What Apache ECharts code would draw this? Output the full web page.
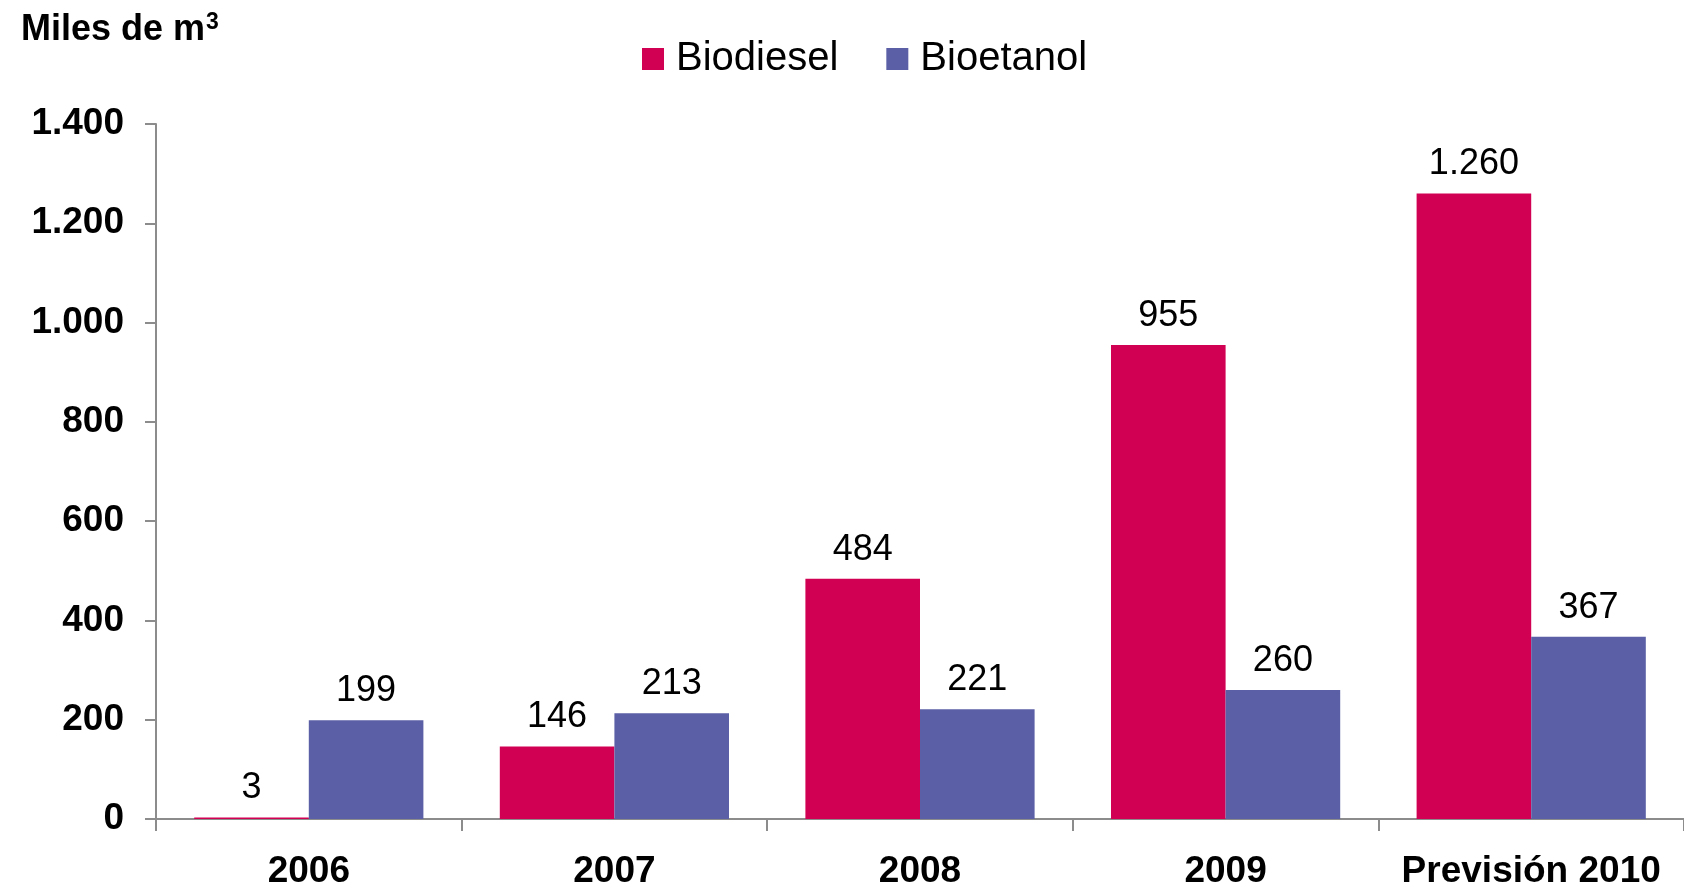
<!doctype html>
<html lang="es">
<head>
    <meta charset="UTF-8">
    <title>Biocombustibles</title>
    <style>
        * {
            margin: 0;
            padding: 0;
        }

        body {
            background: #ffffff;
        }

        #chart {
            width: 1684px;
            height: 890px;
        }
    </style>
</head>
<body>
<div id="chart"></div>
<script src="https://cdn.jsdelivr.net/npm/echarts@6/dist/echarts.min.js"></script>
<script type="application/javascript">
    const years = ['2006', '2007', '2008', '2009', 'Previsión 2010'];
    const biodiesel = [3, 146, 484, 955, 1260];
    const bioetanol = [199, 213, 221, 260, 367];

    const font = 'Liberation Sans, Arial, sans-serif';
    // 1.400 style: dot as thousands separator
    const fmt = function (v) {
        return String(v).replace(/\B(?=(\d{3})+(?!\d))/g, '.');
    };

    const barLabel = {
        show: true,
        position: 'top',
        distance: 11,
        color: '#000',
        fontFamily: font,
        fontSize: 36,
        formatter: function (p) {
            return fmt(p.value);
        }
    };

    const chart = echarts.init(document.getElementById('chart'));
    chart.setOption({
        animation: false,
        backgroundColor: '#ffffff',
        textStyle: {fontFamily: font},
        title: {
            text: '{t|Miles de m}{s|3}',
            left: 16,
            top: 6,
            textStyle: {
                rich: {
                    t: {
                        fontFamily: font,
                        fontSize: 36,
                        fontWeight: 'bold',
                        color: '#000',
                        verticalAlign: 'bottom'
                    },
                    s: {
                        fontFamily: font,
                        fontSize: 23,
                        fontWeight: 'bold',
                        color: '#000',
                        verticalAlign: 'top',
                        padding: [0, 0, 14, 1]
                    }
                }
            }
        },
        legend: {
            top: 34,
            left: 637,
            itemWidth: 22,
            itemHeight: 22,
            itemGap: 48,
            icon: 'rect',
            textStyle: {
                fontFamily: font,
                fontSize: 40,
                color: '#000',
                padding: [0, 0, 0, 7]
            },
            data: ['Biodiesel', 'Bioetanol']
        },
        grid: {
            left: 156,
            right: 0,
            top: 124,
            bottom: 68,
            containLabel: false
        },
        xAxis: {
            type: 'category',
            data: years,
            axisLine: {lineStyle: {color: '#8c8c8c', width: 2}},
            axisTick: {show: true, interval: 0, length: 12, lineStyle: {color: '#8c8c8c', width: 2}},
            axisLabel: {
                interval: 0,
                color: '#000',
                fontFamily: font,
                fontSize: 37,
                fontWeight: 'bold',
                margin: 34
            }
        },
        yAxis: {
            type: 'value',
            min: 0,
            max: 1400,
            interval: 200,
            splitLine: {show: false},
            axisLine: {show: true, lineStyle: {color: '#8c8c8c', width: 2}},
            axisTick: {show: true, length: 11, lineStyle: {color: '#8c8c8c', width: 2}},
            axisLabel: {
                color: '#000',
                fontFamily: font,
                fontSize: 37,
                fontWeight: 'bold',
                margin: 32,
                formatter: fmt
            }
        },
        series: [
            {
                name: 'Biodiesel',
                type: 'bar',
                data: biodiesel,
                barGap: '0%',
                barCategoryGap: '25%',
                itemStyle: {color: '#d20052'},
                label: barLabel
            },
            {
                name: 'Bioetanol',
                type: 'bar',
                data: bioetanol,
                itemStyle: {color: '#5a5fa6'},
                label: barLabel
            }
        ]
    });
</script>
</body>
</html>
